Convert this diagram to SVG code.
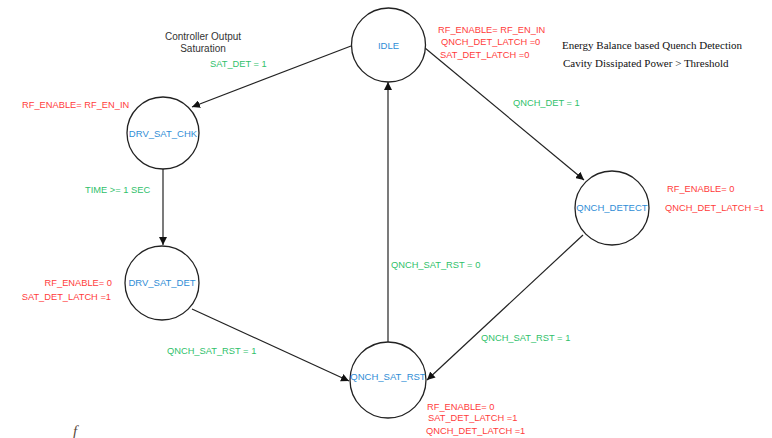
<svg xmlns="http://www.w3.org/2000/svg" width="772" height="438" viewBox="0 0 772 438">
<style>
.st{fill:#fff;stroke:#222;stroke-width:1.3}
.nm{font-family:"Liberation Sans",Arial,sans-serif;font-size:9.5px;fill:#2f8dd6;text-anchor:middle}
.r{font-family:"Liberation Sans",Arial,sans-serif;font-size:9.3px;fill:#ff3b3b}
.g{font-family:"Liberation Sans",Arial,sans-serif;font-size:9.3px;fill:#2fbf6a}
.k{font-family:"Liberation Sans",Arial,sans-serif;font-size:10px;fill:#333;text-anchor:middle}
.s{font-family:"Liberation Serif","Times New Roman",serif;font-size:11px;fill:#111}
.c{stroke:#222;stroke-width:1.2;fill:none;marker-end:url(#ah)}
</style>
<defs>
<marker id="ah" viewBox="0 0 10 10" refX="10" refY="5" markerWidth="8" markerHeight="8" markerUnits="userSpaceOnUse" orient="auto">
<path d="M0,0 L10,5 L0,10 z" fill="#111"/>
</marker>
</defs>
<rect width="772" height="438" fill="#fff"/>
<g id="connectors">
<line class="c" x1="351" y1="46" x2="192" y2="107"/>
<line class="c" x1="163" y1="169" x2="163" y2="245"/>
<line class="c" x1="425" y1="48" x2="584" y2="180"/>
<line class="c" x1="583" y1="235" x2="427" y2="380"/>
<line class="c" x1="192" y1="309" x2="349" y2="381"/>
<line class="c" x1="388" y1="342" x2="388" y2="82"/>
</g>
<g id="edge-labels">
<text class="g" x="210" y="67">SAT_DET = 1</text>
<text class="g" x="85" y="193">TIME &gt;= 1 SEC</text>
<text class="g" x="513" y="106">QNCH_DET = 1</text>
<text class="g" x="391" y="268">QNCH_SAT_RST = 0</text>
<text class="g" x="481" y="341">QNCH_SAT_RST = 1</text>
<text class="g" x="167" y="354">QNCH_SAT_RST = 1</text>
</g>
<g id="IDLE">
<circle class="st" cx="388.5" cy="45" r="37"/>
<text class="nm" x="388.5" y="49">IDLE</text>
<text class="r" x="438" y="33">RF_ENABLE= RF_EN_IN</text>
<text class="r" x="441" y="45">QNCH_DET_LATCH =0</text>
<text class="r" x="440" y="58">SAT_DET_LATCH =0</text>
</g>
<g id="DRV_SAT_CHK">
<circle class="st" cx="163" cy="133" r="36"/>
<text class="nm" x="163" y="137">DRV_SAT_CHK</text>
<text class="r" x="22" y="108">RF_ENABLE= RF_EN_IN</text>
</g>
<g id="DRV_SAT_DET">
<circle class="st" cx="162" cy="283" r="37"/>
<text class="nm" x="162" y="286">DRV_SAT_DET</text>
<text class="r" x="112" y="286" text-anchor="end">RF_ENABLE= 0</text>
<text class="r" x="111" y="300" text-anchor="end">SAT_DET_LATCH =1</text>
</g>
<g id="QNCH_DETECT">
<circle class="st" cx="612" cy="208" r="37"/>
<text class="nm" x="612" y="211">QNCH_DETECT</text>
<text class="r" x="667" y="192">RF_ENABLE= 0</text>
<text class="r" x="665" y="211">QNCH_DET_LATCH =1</text>
</g>
<g id="QNCH_SAT_RST">
<circle class="st" cx="388" cy="380" r="38"/>
<text class="nm" x="388" y="380">QNCH_SAT_RST</text>
<text class="r" x="427" y="410">RF_ENABLE= 0</text>
<text class="r" x="428" y="421">SAT_DET_LATCH =1</text>
<text class="r" x="426" y="434">QNCH_DET_LATCH =1</text>
</g>
<g id="notes">
<text class="k" x="203" y="40">Controller Output</text>
<text class="k" x="203" y="52">Saturation</text>
<text class="s" x="562" y="49">Energy Balance based Quench Detection</text>
<text class="s" x="563" y="67">Cavity Dissipated Power &gt; Threshold</text>
<text x="73" y="436" font-family="Liberation Serif,serif" font-style="italic" font-size="15" fill="#5a4a3a">f</text>
</g>
</svg>
